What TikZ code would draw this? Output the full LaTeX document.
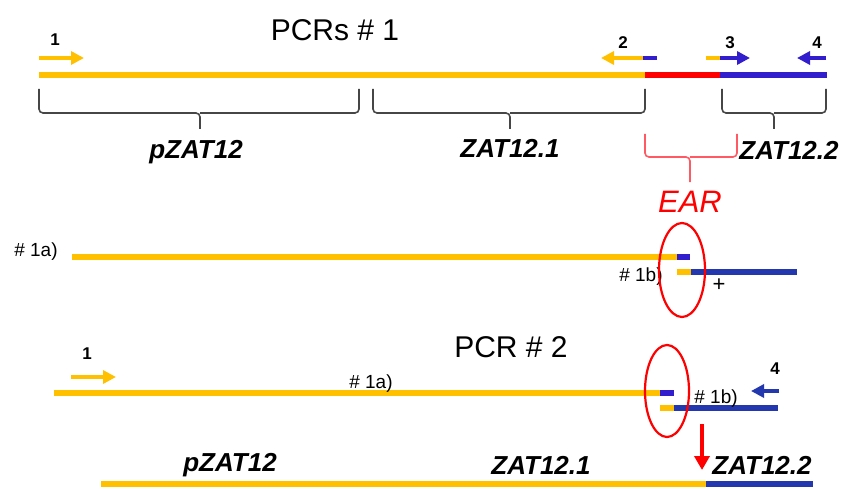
\documentclass[tikz,border=0pt]{standalone}
\usepackage{fontspec}
\setmainfont{Liberation Sans}
\usetikzlibrary{arrows.meta}
\definecolor{gene}{RGB}{255,192,0}
\definecolor{earred}{RGB}{255,0,0}
\definecolor{bluA}{RGB}{50,30,205}
\definecolor{bluB}{RGB}{35,55,175}
\definecolor{brc}{RGB}{70,70,70}
\definecolor{brred}{RGB}{255,90,100}
\tikzset{
  seg/.style={line width=6pt},
  prim/.style={line width=3.5pt,-{Triangle[length=13pt,width=13pt]}},
  primline/.style={line width=3.5pt},
  brace/.style={draw=brc,line width=1.6pt,rounded corners=4pt},
  lbl/.style={font=\bfseries\itshape\fontsize{26}{26}\selectfont,inner sep=0pt},
  num/.style={font=\bfseries\fontsize{17}{17}\selectfont,inner sep=0pt},
  frag/.style={font=\fontsize{19}{19}\selectfont,inner sep=0pt},
  title/.style={font=\fontsize{30}{30}\selectfont,inner sep=0pt},
  ring/.style={draw=earred,line width=2.2pt}
}
\begin{document}
\begin{tikzpicture}[x=1pt,y=-1pt]
\useasboundingbox[fill=white] (0,0) rectangle (842,489);
% ---------- PCRs #1 ----------
\node[title] (t1) at (335,30) {PCRs \# 1};
\coordinate (a0) at (39,75); \coordinate (a1) at (645,75);
\coordinate (a2) at (720,75); \coordinate (a3) at (827,75);
\draw[seg,gene] (a0) -- (a1);
\draw[seg,earred] (a1) -- (a2);
\draw[seg,bluA] (a2) -- (a3);
% primer 1
\coordinate (p1s) at (39,58); \coordinate (p1e) at (84,58);
\draw[prim,gene] (p1s) -- (p1e);
\node[num] (n1) at (55,40) {1};
% primer 2
\coordinate (p2a) at (657,58); \coordinate (p2b) at (643,58); \coordinate (p2e) at (601,58);
\draw[primline,bluA] (p2a) -- (p2b);
\draw[prim,gene] (p2b) -- (p2e);
\node[num] (n2) at (623,43) {2};
% primer 3
\coordinate (p3a) at (706,58); \coordinate (p3b) at (720,58); \coordinate (p3e) at (750,58);
\draw[primline,gene] (p3a) -- (p3b);
\draw[prim,bluA] (p3b) -- (p3e);
\node[num] (n3) at (730,43) {3};
% primer 4
\coordinate (p4s) at (826,58); \coordinate (p4e) at (797,58);
\draw[prim,bluA] (p4s) -- (p4e);
\node[num] (n4) at (817,43) {4};
% braces
\draw[brace] (39,89) |- (200,113) -- (200,129);
\draw[brace] (359,89) |- (200,113);
\draw[brace] (373,89) |- (510,113) -- (510,129);
\draw[brace] (645,89) |- (510,113);
\draw[brace] (722,89) |- (774,113) -- (774,129);
\draw[brace] (826,89) |- (774,113);
\node[lbl] (l1) at (196,152) {pZAT12};
\node[lbl] (l2) at (510,148) {ZAT12.1};
\node[lbl] (l3) at (789,150) {ZAT12.2};
\draw[brace,draw=brred] (645,134) |- (690,157) -- (690,182);
\draw[brace,draw=brred] (737,134) |- (690,157);
\node[font=\itshape\fontsize{31}{31}\selectfont,text=earred,inner sep=0pt] (ear) at (690,202) {EAR};
% ---------- fragments ----------
\node[frag] (f1a) at (36,252) {\# 1a)};
\coordinate (b0) at (72,257); \coordinate (b1) at (677,257); \coordinate (b2) at (690,257);
\draw[seg,gene] (b0) -- (b1);
\draw[seg,bluA] (b1) -- (b2);
\coordinate (c0) at (677,272); \coordinate (c1) at (691,272); \coordinate (c2) at (797,272);
\draw[seg,gene] (c0) -- (c1);
\draw[seg,bluB] (c1) -- (c2);
\node[frag] (f1b) at (641,277) {\# 1b)};
\node[font=\fontsize{22}{22}\selectfont,inner sep=0pt] (plus) at (719,285) {+};
\draw[ring] (682,270) ellipse [x radius=23,y radius=47];
% ---------- PCR #2 ----------
\node[title] (t2) at (511,347) {PCR \# 2};
\coordinate (q1s) at (71,377); \coordinate (q1e) at (116,377);
\draw[prim,gene] (q1s) -- (q1e);
\node[num] (m1) at (87,354) {1};
\coordinate (d0) at (54,393); \coordinate (d1) at (660,393); \coordinate (d2) at (674,393);
\draw[seg,gene] (d0) -- (d1);
\draw[seg,bluA] (d1) -- (d2);
\node[frag] (g1a) at (371,384) {\# 1a)};
\coordinate (e0) at (660,408); \coordinate (e1) at (674,408); \coordinate (e2) at (778,408);
\draw[seg,gene] (e0) -- (e1);
\draw[seg,bluB] (e1) -- (e2);
\node[frag] (g1b) at (716,399) {\# 1b)};
\coordinate (q4s) at (779,391); \coordinate (q4e) at (751,391);
\draw[prim,bluB] (q4s) -- (q4e);
\node[num] (m4) at (775,369) {4};
\draw[ring] (667,391) ellipse [x radius=22,y radius=46];
\coordinate (r0) at (702,424); \coordinate (r1) at (702,470);
\draw[line width=3.5pt,earred,-{Triangle[length=14pt,width=15pt]}] (r0) -- (r1);
% final product
\coordinate (h0) at (101,484); \coordinate (h1) at (706,484); \coordinate (h2) at (813,484);
\draw[seg,gene] (h0) -- (h1);
\draw[seg,bluB] (h1) -- (h2);
\node[lbl] (k1) at (230,465) {pZAT12};
\node[lbl] (k2) at (541,465) {ZAT12.1};
\node[lbl] (k3) at (762,465) {ZAT12.2};
\end{tikzpicture}
\end{document}
